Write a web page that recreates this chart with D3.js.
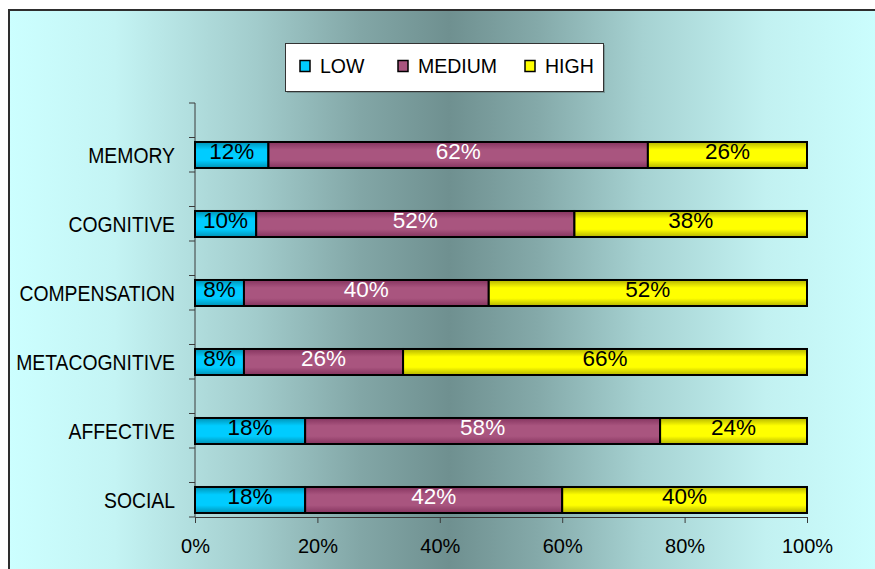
<!DOCTYPE html>
<html>
<head>
<meta charset="utf-8">
<script src="https://cdn.jsdelivr.net/npm/d3@7"></script>
<style>
  html, body { margin: 0; padding: 0; background: #ffffff; }
  svg { display: block; font-family: "Liberation Sans", Arial, sans-serif; }
</style>
</head>
<body>
<svg id="chart" width="875" height="569"></svg>
<script>
// Learning strategy use levels, share of respondents per strategy group
const categories = ["MEMORY", "COGNITIVE", "COMPENSATION", "METACOGNITIVE", "AFFECTIVE", "SOCIAL"];
const seriesNames = ["LOW", "MEDIUM", "HIGH"];
const lowValues = [12, 10, 8, 8, 18, 18];
const mediumValues = [62, 52, 40, 26, 58, 42];
const highValues = [26, 38, 52, 66, 24, 40];
const xTicks = [0, 20, 40, 60, 80, 100];

const seriesStyle = {
  LOW:    { mid: "#00ccff", edge: "#0092b4", text: "#000000" },
  MEDIUM: { mid: "#a9557f", edge: "#85345f", text: "#ffffff" },
  HIGH:   { mid: "#ffff00", edge: "#b4b400", text: "#000000" }
};

const rows = categories.map((c, i) => ({
  category: c,
  LOW: lowValues[i],
  MEDIUM: mediumValues[i],
  HIGH: highValues[i]
}));

const svg = d3.select("#chart");
const defs = svg.append("defs");

// Chart-area background: light cyan at the sides, dark slate in the middle
const bg = defs.append("linearGradient").attr("id", "bgGrad")
  .attr("x1", "0").attr("x2", "1").attr("y1", "0").attr("y2", "0");
[[0, "#ccffff"], [0.12, "#c4f4f4"], [0.28, "#a2cccc"], [0.40, "#82a6a6"],
 [0.50, "#6f9090"], [0.60, "#84a9a9"], [0.72, "#a6d2d2"], [0.86, "#c2f1f1"], [1, "#ccffff"]]
  .forEach(([o, c]) => bg.append("stop").attr("offset", o).attr("stop-color", c));

// Bar shading: darker at top and bottom edges
seriesNames.forEach(s => {
  const g = defs.append("linearGradient").attr("id", "grad-" + s)
    .attr("x1", "0").attr("x2", "0").attr("y1", "0").attr("y2", "1");
  const st = seriesStyle[s];
  g.append("stop").attr("offset", 0).attr("stop-color", st.edge);
  g.append("stop").attr("offset", 0.3).attr("stop-color", st.mid);
  g.append("stop").attr("offset", 0.7).attr("stop-color", st.mid);
  g.append("stop").attr("offset", 1).attr("stop-color", st.edge);
});

svg.append("rect")
  .attr("x", 9).attr("y", 10).attr("width", 880).attr("height", 580)
  .attr("fill", "url(#bgGrad)")
  .attr("stroke", "#2e2e2e").attr("stroke-width", 2);

const x = d3.scaleLinear().domain([0, 100]).range([195, 807]);
const y = d3.scaleBand().domain(categories).range([103, 517]);
const bw = y.bandwidth();
const barOffset = bw * 0.565;
const barHeight = bw * 0.377;

const stack = d3.stack().keys(seriesNames)(rows);

// Axes
const axisColor = "#3a3a3a";
const xAxis = d3.axisBottom(x).tickValues(xTicks).tickFormat(d => d + "%").tickSizeInner(6).tickSizeOuter(6);
const gx = svg.append("g").attr("transform", "translate(0,517)").call(xAxis);
gx.select(".domain").attr("stroke", axisColor);
gx.selectAll(".tick line").attr("stroke", axisColor);
gx.selectAll(".tick text").attr("font-size", 20).attr("fill", "#000").attr("y", 22)
  .attr("font-family", "Liberation Sans, Arial, sans-serif");

const gy = svg.append("g");
gy.append("line").attr("x1", 195).attr("x2", 195).attr("y1", 103).attr("y2", 517).attr("stroke", axisColor);
const yTickPos = [];
categories.forEach(c => { yTickPos.push(y(c)); yTickPos.push(y(c) + bw / 2); });
yTickPos.push(y(categories[categories.length - 1]) + bw);
gy.selectAll("line.tick").data(yTickPos).join("line")
  .attr("class", "tick")
  .attr("x1", 189).attr("x2", 195)
  .attr("y1", d => d).attr("y2", d => d)
  .attr("stroke", axisColor);

// Category labels
svg.append("g").selectAll("text").data(categories).join("text")
  .attr("transform", d => `translate(175,${y(d) + barOffset + barHeight / 2 + 7.8}) scale(0.88,1)`)
  .attr("text-anchor", "end")
  .attr("font-size", 22)
  .attr("fill", "#000")
  .text(d => d);

// Stacked bars
const layers = svg.append("g").selectAll("g").data(stack).join("g");
layers.selectAll("rect").data(d => d.map(v => ({ key: d.key, v }))).join("rect")
  .attr("x", d => x(d.v[0]))
  .attr("width", d => x(d.v[1]) - x(d.v[0]))
  .attr("y", d => y(d.v.data.category) + barOffset)
  .attr("height", barHeight)
  .attr("fill", d => `url(#grad-${d.key})`)
  .attr("stroke", "#000").attr("stroke-width", 2);

// Value labels
layers.selectAll("text").data(d => d.map(v => ({ key: d.key, v }))).join("text")
  .attr("x", d => (x(d.v[0]) + x(d.v[1])) / 2)
  .attr("y", d => y(d.v.data.category) + barOffset + 17)
  .attr("text-anchor", "middle")
  .attr("font-size", 22.5)
  .attr("fill", d => seriesStyle[d.key].text)
  .text(d => (d.v[1] - d.v[0]) + "%");

// Legend
const legend = svg.append("g");
legend.append("rect").attr("x", 287).attr("y", 45).attr("width", 318).attr("height", 48)
  .attr("fill", "#5a6e6e").attr("opacity", 0.5);
legend.append("rect").attr("x", 285.5).attr("y", 43.5).attr("width", 318).attr("height", 48)
  .attr("fill", "#ffffff").attr("stroke", "#333").attr("stroke-width", 1);
const legendX = [300, 398, 525];
seriesNames.forEach((s, i) => {
  legend.append("rect").attr("x", legendX[i]).attr("y", 60.5).attr("width", 10).attr("height", 11)
    .attr("fill", seriesStyle[s].mid).attr("stroke", "#000").attr("stroke-width", 1.5);
  legend.append("text").attr("x", legendX[i] + 20).attr("y", 73)
    .attr("font-size", 19.5).attr("fill", "#000").text(s);
});
</script>
</body>
</html>
